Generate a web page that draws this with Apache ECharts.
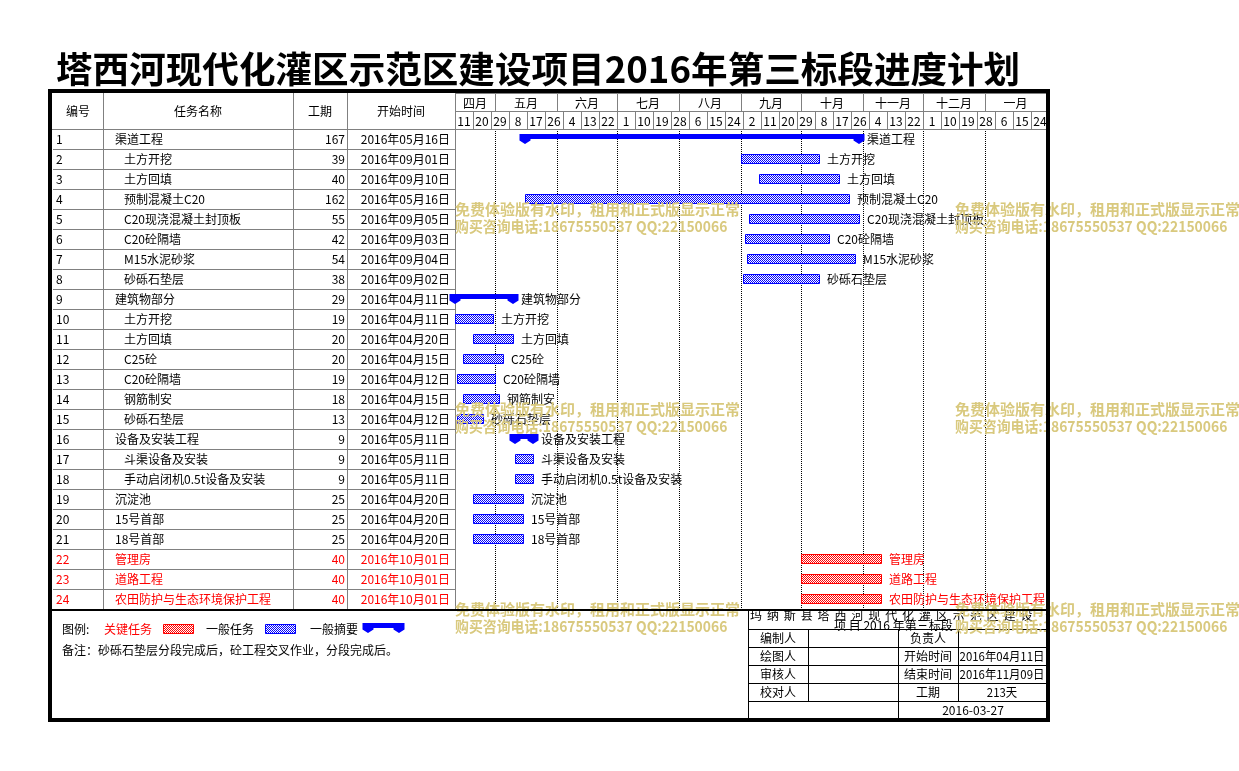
<!DOCTYPE html>
<html><head><meta charset="utf-8">
<script src="https://cdn.jsdelivr.net/npm/echarts@6/dist/echarts.min.js"></script>
<style>html,body{margin:0;padding:0;background:#fff}#c{width:1239px;height:771px}</style>
</head><body><div id="c"></div>
<script>
// ---------------- data ----------------
const title = '塔西河现代化灌区示范区建设项目2016年第三标段进度计划';
const ids = ['1','2','3','4','5','6','7','8','9','10','11','12','13','14','15','16','17','18','19','20','21','22','23','24'];
const names = ['渠道工程','土方开挖','土方回填','预制混凝土C20','C20现浇混凝土封顶板','C20砼隔墙','M15水泥砂浆','砂砾石垫层',
  '建筑物部分','土方开挖','土方回填','C25砼','C20砼隔墙','钢筋制安','砂砾石垫层',
  '设备及安装工程','斗渠设备及安装','手动启闭机0.5t设备及安装','沉淀池','15号首部','18号首部',
  '管理房','道路工程','农田防护与生态环境保护工程'];
const durations = [167,39,40,162,55,42,54,38,29,19,20,20,19,18,13,9,9,9,25,25,25,40,40,40];
const startDates = ['2016年05月16日','2016年09月01日','2016年09月10日','2016年05月16日','2016年09月05日','2016年09月03日','2016年09月04日','2016年09月02日',
  '2016年04月11日','2016年04月11日','2016年04月20日','2016年04月15日','2016年04月12日','2016年04月15日','2016年04月12日',
  '2016年05月11日','2016年05月11日','2016年05月11日','2016年04月20日','2016年04月20日','2016年04月20日',
  '2016年10月01日','2016年10月01日','2016年10月01日'];
const levels = [0,1,1,1,1,1,1,1, 0,1,1,1,1,1,1, 0,1,1, 0,0,0, 0,0,0];
const kinds = ['summary','task','task','task','task','task','task','task',
  'summary','task','task','task','task','task','task',
  'summary','task','task','task','task','task',
  'critical','critical','critical'];
const monthNames = ['四月','五月','六月','七月','八月','九月','十月','十一月','十二月','一月'];
const monthStarts = ['2016年04月11日','2016年05月01日','2016年06月01日','2016年07月01日','2016年08月01日','2016年09月01日','2016年10月01日','2016年11月01日','2016年12月01日','2017年01月01日'];
const dayTickLabels = ['11','20','29','8','17','26','4','13','22','1','10','19','28','6','15','24','2','11','20','29','8','17','26','4','13','22','1','10','19','28','6','15','24'];
const dayTickStep = 9;
const timelineStart = '2016年04月11日';
const timelineDays = 295.5;
const infoRows = [['编制人','负责人',''],['绘图人','开始时间','2016年04月11日'],['审核人','结束时间','2016年11月09日'],['校对人','工期','213天']];
const drawDate = '2016-03-27';
const legendLabels = ['图例:','关键任务','一般任务','一般摘要'];
const note = '备注：砂砾石垫层分段完成后，砼工程交叉作业，分段完成后。';
const projLine1 = '玛纳斯县塔西河现代化灌区示范区建设';
const projLine2 = '项 目 2016 年第三标段';
const wm1 = '免费体验版有水印，租用和正式版显示正常';
const wm2 = '购买咨询电话:18675550537 QQ:22150066';

// ---------------- helpers ----------------
const FONT = '"Noto Sans CJK SC","Noto Sans",sans-serif';
const BLUE = '#0000FF', RED = '#FF0000', GRAY = '#808080', WMC = '#D9C97E';
function parseD(s){ const m = s.match(/(\d+)年(\d+)月(\d+)日/); return Date.UTC(+m[1], +m[2]-1, +m[3]); }
const T0 = parseD(timelineStart);
function dayOf(s){ return Math.round((parseD(s) - T0) / 86400000); }
function pattern(color){
  const c = document.createElement('canvas'); c.width = 2; c.height = 2;
  const g = c.getContext('2d'); g.fillStyle = '#fff'; g.fillRect(0,0,2,2);
  g.fillStyle = color; g.fillRect(0,0,1,1); g.fillRect(1,1,1,1);
  return {image: c, repeat: 'repeat'};
}
const PAT = {blue: pattern(BLUE), red: pattern(RED)};
function summaryPts(s, e, cy){
  const hw = 5.5, top = cy-5, bot = cy, mid = cy+1.5, tip = cy+5;
  return [[s-hw,top],[e+hw,top],[e+hw,mid],[e,tip],[e-hw,mid],[e-hw,bot],[s+hw,bot],[s+hw,mid],[s,tip],[s-hw,mid]];
}
function T(x, y, text, o){
  o = o || {};
  const al = o.align || 'left';
  const el = {type:'text', x:x, y:y, z:o.z || 50, style:{text:text, font:(o.bold?'bold ':'') + (o.size||12) + 'px ' + FONT,
    fill:o.color || '#000', textAlign:al, align:al, textVerticalAlign:'middle', verticalAlign:'middle'}};
  if (o.sx) el.scaleX = o.sx;
  return el;
}
function L(x1,y1,x2,y2,c,w,z){ return {type:'line', z:z||40, shape:{x1:x1,y1:y1,x2:x2,y2:y2}, style:{stroke:c||GRAY, lineWidth:w||1}}; }
function R(x,y,w,h,fill,z){ return {type:'rect', z:z||60, shape:{x:x,y:y,width:w,height:h}, style:{fill:fill}}; }

// ---------------- series data ----------------
const barData = names.map((n,i)=>{ const s = dayOf(startDates[i]); return [s, s + durations[i], i]; });
const monthDays = monthStarts.map(dayOf);
const monthData = monthDays.map((d,i)=>[d, i < monthDays.length-1 ? monthDays[i+1] : timelineDays, 0]);
const dayData = dayTickLabels.map((t,i)=>[i*dayTickStep, i*dayTickStep + dayTickStep, 1]);
const gridLineData = monthDays.slice(1).map(d=>[d, 0]);

// ---------------- table rich labels ----------------
const rich = {};
[['', '#000'], ['r', RED]].forEach(([suf, col])=>{
  const b = {fontSize:12, fontFamily:FONT, color:col, height:20};
  rich['i0'+suf] = Object.assign({width:59, align:'left'}, b);
  rich['i1'+suf] = Object.assign({width:68, align:'left'}, b);
  rich['n0'+suf] = Object.assign({width:178, align:'left'}, b);
  rich['n1'+suf] = Object.assign({width:169, align:'left'}, b);
  rich['d'+suf] = Object.assign({width:52, align:'right'}, b);
  rich['t'+suf] = Object.assign({width:105, align:'right'}, b);
});

// ---------------- graphics (frame, header, legend, info block, watermark) ----------------
const g = [];
g.push(T(56, 69, title, {size:36.6, bold:true}));
[['编号',78],['任务名称',198],['工期',320],['开始时间',401]].forEach(([t,x])=>g.push(T(x, 111, t, {align:'center'})));
[103.5, 293.5, 347.5].forEach(x=>g.push(L(x, 93, x, 609)));
g.push(L(455.5, 93, 455.5, 129));
g.push(L(52, 129.5, 1046, 129.5));
// legend
g.push(T(62, 629, legendLabels[0]));
g.push(T(104, 629, legendLabels[1], {color:RED}));
g.push({type:'rect', z:50, shape:{x:163.5, y:624.5, width:30, height:9}, style:{fill:PAT.red, stroke:RED, lineWidth:1}});
g.push(T(206, 629, legendLabels[2]));
g.push({type:'rect', z:50, shape:{x:265.5, y:624.5, width:30, height:9}, style:{fill:PAT.blue, stroke:BLUE, lineWidth:1}});
g.push(T(310, 629, legendLabels[3]));
g.push({type:'polygon', z:50, shape:{points:summaryPts(368, 399, 628)}, style:{fill:BLUE}});
g.push(T(62, 650, note));
// info block
[...projLine1].forEach((ch,i)=>g.push(T(756 + i*16.9, 615, ch, {align:'center'})));
g.push(T(834, 625, projLine2));
[629.5, 647.5, 665.5, 683.5, 701.5].forEach(y=>g.push(L(748, y, 1046, y, '#000')));
g.push(L(748.5, 610, 748.5, 718, '#000'));
g.push(L(808.5, 629, 808.5, 701, '#000'));
g.push(L(898.5, 629, 898.5, 718, '#000'));
g.push(L(958.5, 629, 958.5, 701, '#000'));
infoRows.forEach((r,i)=>{
  const y = 638.5 + i*18;
  g.push(T(778, y, r[0], {align:'center'}));
  g.push(T(928, y, r[1], {align:'center'}));
  if (r[2]) g.push(T(1002, y, r[2], {align:'center', sx:0.95}));
});
g.push(T(973, 710, drawDate, {align:'center'}));
// watermark
[[455,209],[955,209],[455,409],[955,409],[455,609],[955,609]].forEach(([x,y])=>{
  g.push(T(x, y, wm1, {size:15, bold:true, color:WMC, z:80}));
  g.push(T(x, y+17, wm2, {size:15, bold:true, color:WMC, z:80, sx:0.925}));
});
// thick frame
g.push(R(48, 89, 1002, 4, '#000', 90));
g.push(R(48, 89, 4, 633, '#000', 90));
g.push(R(1046, 89, 4, 633, '#000', 90));
g.push(R(48, 718, 1002, 4, '#000', 90));
g.push(R(52, 609, 994, 2, '#000', 90));

// ---------------- chart ----------------
const chart = echarts.init(document.getElementById('c'), null, {renderer:'canvas'});
chart.setOption({
  animation:false,
  backgroundColor:'#fff',
  grid:[{left:455, top:129, width:591, height:480, show:false},
        {left:455, top:93, width:591, height:36, show:false}],
  xAxis:[{type:'value', gridIndex:0, min:0, max:timelineDays, show:false},
         {type:'value', gridIndex:1, min:0, max:timelineDays, show:false}],
  yAxis:[{type:'category', gridIndex:0, inverse:true, data:ids,
          axisLine:{show:true, lineStyle:{color:GRAY}},
          axisTick:{show:true, interval:0, length:402, lineStyle:{color:GRAY}},
          splitLine:{show:false},
          axisLabel:{interval:0, margin:5, fontFamily:FONT, fontSize:12, rich:rich,
            formatter:(v, i)=>{
              const suf = kinds[i]==='critical' ? 'r' : '';
              const lv = levels[i];
              return '{i'+lv+suf+'|'+ids[i]+'}{n'+lv+suf+'|'+names[i]+'}{d'+suf+'|'+durations[i]+'}{t'+suf+'|'+startDates[i]+'}';
            }}},
         {type:'value', gridIndex:1, min:0, max:2, inverse:true, show:false}],
  series:[
    {type:'custom', xAxisIndex:0, yAxisIndex:0, data:gridLineData, encode:{x:0, y:1}, z:1,
     renderItem:(p, api)=>{
       const x = Math.round(api.coord([api.value(0), 0])[0]) + 0.5;
       const cs = p.coordSys;
       return {type:'line', shape:{x1:x, y1:cs.y, x2:x, y2:cs.y+cs.height}, style:{stroke:'#000', lineWidth:1, lineDash:[1,1]}};
     }},
    {type:'custom', xAxisIndex:0, yAxisIndex:0, data:barData, encode:{x:[0,1], y:2}, z:5,
     renderItem:(p, api)=>{
       const i = p.dataIndex;
       const s = api.coord([api.value(0), api.value(2)]);
       const e = api.coord([api.value(1), api.value(2)]);
       const cy = s[1];
       const k = kinds[i];
       const ch = [];
       if (k === 'summary') {
         ch.push({type:'polygon', shape:{points:summaryPts(s[0], e[0], cy)}, style:{fill:BLUE}});
       } else {
         const col = k === 'critical' ? RED : BLUE;
         ch.push({type:'rect', shape:{x:Math.round(s[0])+0.5, y:cy-4.5, width:e[0]-s[0], height:9},
                  style:{fill:k==='critical'?PAT.red:PAT.blue, stroke:col, lineWidth:1}});
       }
       ch.push({type:'text', x:e[0]+8, y:cy, style:{text:names[i], fill:k==='critical'?RED:'#000', font:'12px '+FONT,
                textAlign:'left', align:'left', textVerticalAlign:'middle', verticalAlign:'middle'}});
       return {type:'group', children:ch};
     }},
    {type:'custom', xAxisIndex:1, yAxisIndex:1, data:monthData, encode:{x:[0,1], y:2}, clip:true, z:5,
     renderItem:(p, api)=>{
       const a = api.coord([api.value(0), 0]), b = api.coord([api.value(1), 1]);
       return {type:'group', children:[
         {type:'rect', shape:{x:Math.round(a[0])+0.5, y:a[1]+0.5, width:b[0]-a[0], height:b[1]-a[1]}, style:{fill:'none', stroke:GRAY, lineWidth:1}},
         {type:'text', x:(a[0]+b[0])/2, y:(a[1]+b[1])/2+1, style:{text:monthNames[p.dataIndex], font:'12px '+FONT, fill:'#000',
           textAlign:'center', align:'center', textVerticalAlign:'middle', verticalAlign:'middle'}}]};
     }},
    {type:'custom', xAxisIndex:1, yAxisIndex:1, data:dayData, encode:{x:[0,1], y:2}, clip:true, z:5,
     renderItem:(p, api)=>{
       const a = api.coord([api.value(0), 1]), b = api.coord([api.value(1), 2]);
       return {type:'group', children:[
         {type:'rect', shape:{x:Math.round(a[0])+0.5, y:a[1]+0.5, width:b[0]-a[0], height:b[1]-a[1]}, style:{fill:'none', stroke:GRAY, lineWidth:1}},
         {type:'text', x:(a[0]+b[0])/2, y:(a[1]+b[1])/2+1, style:{text:dayTickLabels[p.dataIndex], font:'12px '+FONT, fill:'#000',
           textAlign:'center', align:'center', textVerticalAlign:'middle', verticalAlign:'middle'}}]};
     }}
  ],
  graphic:{elements:g}
});
</script></body></html>
